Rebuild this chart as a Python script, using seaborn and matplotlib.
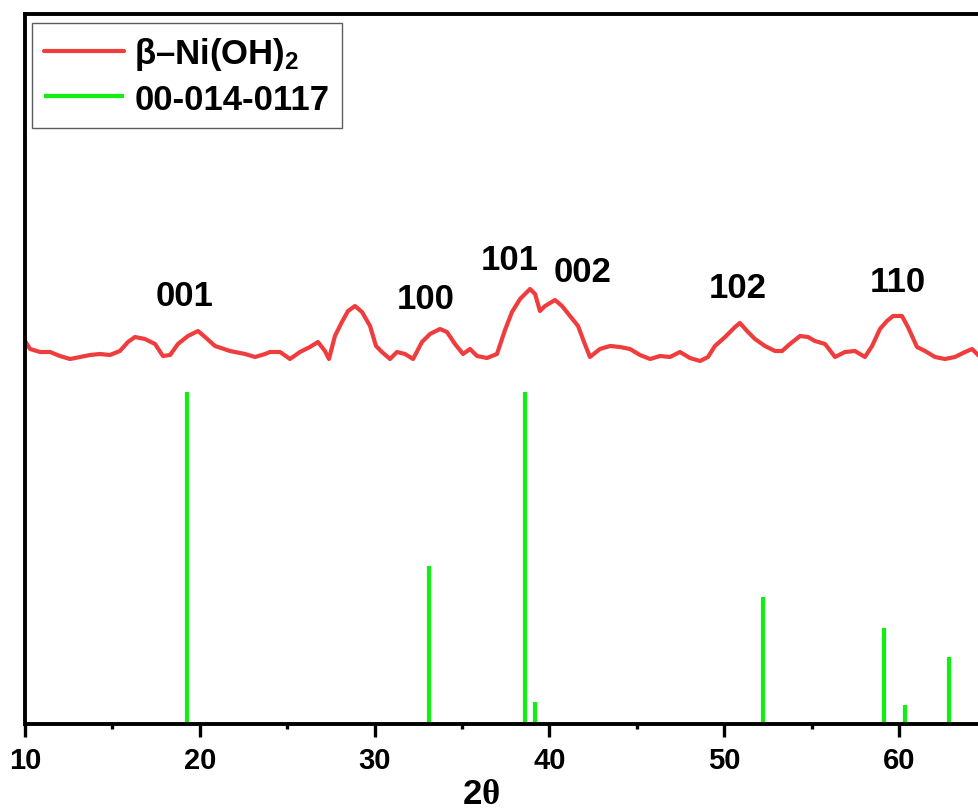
import matplotlib
matplotlib.use("Agg")
import matplotlib.pyplot as plt
import seaborn as sns
import pandas as pd

# ---- data ----
two_theta = [10.00, 10.29, 10.86, 11.43, 12.00, 12.57, 13.15, 13.72, 14.29, 14.86,
             15.43, 15.89, 16.29, 16.86, 17.44, 17.89, 18.30, 18.75, 19.32, 19.90,
             20.30, 20.87, 21.73, 22.59, 23.16, 23.73, 24.02, 24.59, 25.16, 25.73,
             26.30, 26.76, 27.16, 27.39, 27.73, 28.13, 28.48, 28.88, 29.28, 29.74,
             30.08, 30.42, 30.88, 31.28, 31.74, 32.20, 32.71, 33.17, 33.74, 34.14,
             34.60, 35.06, 35.46, 35.86, 36.43, 37.00, 37.46, 37.86, 38.32, 38.89,
             39.18, 39.46, 39.75, 40.32, 40.72, 41.18, 41.64, 41.98, 42.32, 42.89,
             43.47, 44.04, 44.61, 45.18, 45.76, 46.33, 46.90, 47.47, 48.04, 48.62,
             49.07, 49.47, 50.05, 50.62, 50.90, 51.36, 51.76, 52.33, 52.91, 53.31,
             53.76, 54.34, 54.79, 55.19, 55.77, 56.34, 56.91, 57.48, 58.05, 58.46,
             58.91, 59.31, 59.66, 60.17, 60.51, 61.03, 61.49, 62.06, 62.63, 63.20,
             63.78, 64.18, 64.58]
intensity = [383, 375, 372, 372, 368, 365, 367, 369, 370, 369,
             373, 382, 387, 385, 380, 368, 369, 380, 388, 393,
             387, 378, 373, 370, 367, 370, 372, 372, 365, 372,
             377, 382, 373, 365, 388, 402, 413, 418, 412, 398,
             378, 372, 365, 372, 370, 365, 382, 390, 395, 392,
             380, 370, 375, 368, 366, 370, 394, 412, 425, 435,
             430, 413, 418, 424, 418, 408, 398, 382, 367, 375,
             378, 377, 375, 369, 365, 368, 367, 372, 366, 363,
             367, 378, 387, 397, 401, 392, 385, 378, 373, 373,
             380, 388, 387, 383, 380, 367, 372, 373, 367, 378,
             395, 403, 408, 408, 397, 377, 373, 367, 365, 367,
             372, 375, 368]

ref_pos = [19.27, 33.11, 38.60, 39.18, 52.20, 59.14, 60.34, 62.86]
ref_int = [332, 158, 332, 22, 127, 96, 19, 67]

hkl_labels = ["001", "100", "101", "002", "102", "110"]
hkl_x = [19.1, 32.95, 37.75, 41.9, 50.8, 59.95]
hkl_y = [428, 425, 464, 453, 436, 443]

xticks = [10, 20, 30, 40, 50, 60]

sample_name = "β–Ni(OH)$_\\mathsf{2}$"
ref_name = "00-014-0117"

# ---- style ----
sns.set_style("ticks")
plt.rcParams["font.family"] = ["Liberation Sans", "DejaVu Sans"]
plt.rcParams["font.weight"] = "bold"
plt.rcParams["text.color"] = "black"
plt.rcParams["axes.labelcolor"] = "black"
plt.rcParams["xtick.color"] = "black"
plt.rcParams["ytick.color"] = "black"
plt.rcParams["mathtext.fontset"] = "custom"
plt.rcParams["mathtext.sf"] = "Liberation Sans:bold"
plt.rcParams["mathtext.rm"] = "Liberation Serif"
plt.rcParams["mathtext.default"] = "rm"

W, H = 979, 812
fig = plt.figure(figsize=(W / 100, H / 100), dpi=100)
x_max = 66.0
px_per_deg = 17.48
ax_w_px = (x_max - 10) * px_per_deg
ax = fig.add_axes([25 / W, (H - 725) / H, ax_w_px / W, 710 / H])

df = pd.DataFrame({"two_theta": two_theta, "intensity": intensity})
sns.lineplot(data=df, x="two_theta", y="intensity", ax=ax, color="#F03C3C",
             linewidth=3.0, label=sample_name)
ax.vlines(ref_pos, 0, ref_int, colors="#10F010", linewidth=3.0, label=ref_name)

for lab, lx, ly in zip(hkl_labels, hkl_x, hkl_y):
    ax.text(lx, ly, lab, ha="center", va="center", fontsize=25,
            fontweight="bold", color="black")

ax.set_xlim(10, x_max)
ax.set_ylim(0, 710)
ax.set_xticks(xticks)
ax.set_xticklabels([str(t) for t in xticks])
ax.set_xticks([15, 25, 35, 45, 55, 65], minor=True)
ax.set_yticks([])
ax.tick_params(axis="x", which="major", direction="out", length=9.5, width=2.4,
               labelsize=21, pad=6, colors="black")
ax.tick_params(axis="x", which="minor", direction="out", length=3.8, width=2.4,
               colors="black")
for lbl in ax.get_xticklabels():
    lbl.set_fontweight("bold")
for s in ax.spines.values():
    s.set_linewidth(2.8)
    s.set_color("black")

ax.set_xlabel("2$\\theta$", fontsize=25, fontweight="bold", color="black")
ax.set_ylabel("")
ax.xaxis.set_label_coords((481 - 25) / ax_w_px, -(778 - 725) / 710)

leg = ax.legend(loc="upper left", bbox_to_anchor=(7 / ax_w_px, 1 - 9 / 710),
                borderaxespad=0, frameon=True, fancybox=False,
                handlelength=2.3, handletextpad=0.3, labelspacing=0.3,
                borderpad=0.35, prop={"weight": "bold", "size": 25})
leg.get_frame().set_edgecolor("#333333")
leg.get_frame().set_linewidth(1.0)
for t in leg.get_texts():
    t.set_color("black")
for lh in leg.get_lines():
    lh.set_linewidth(3.0)

fig.savefig("out.png", dpi=100)
